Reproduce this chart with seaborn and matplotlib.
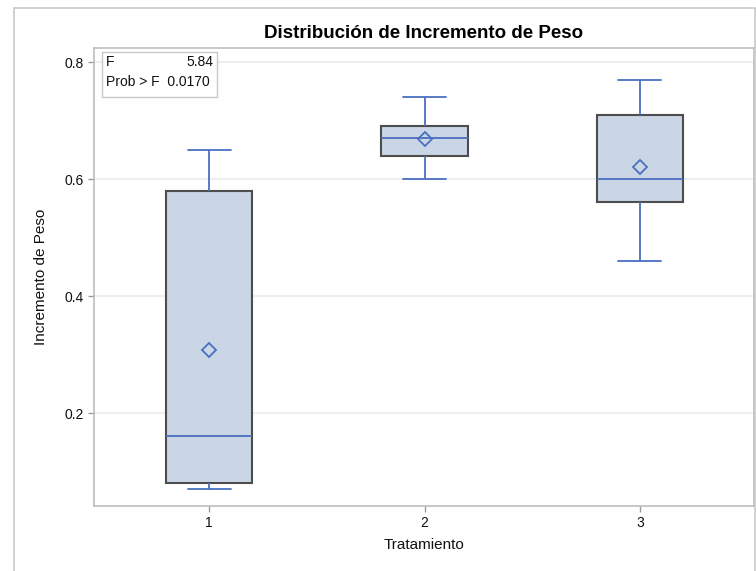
import pandas as pd
import matplotlib.pyplot as plt
import seaborn as sns
from matplotlib.patches import Rectangle

# observations per treatment (5 each)
trat_1 = [0.07, 0.08, 0.16, 0.58, 0.65]
trat_2 = [0.60, 0.64, 0.67, 0.69, 0.74]
trat_3 = [0.46, 0.56, 0.60, 0.71, 0.77]
tratamientos = ["1", "2", "3"]
f_value = 5.84
prob_f = 0.0170

df = pd.DataFrame({
    "Tratamiento": [t for t, vals in zip(tratamientos, [trat_1, trat_2, trat_3]) for _ in vals],
    "Incremento": trat_1 + trat_2 + trat_3,
})

sns.set_theme(style="white")
plt.rcParams['font.family'] = ['Liberation Sans', 'DejaVu Sans']

fig = plt.figure(figsize=(7.56, 5.71), dpi=100)
ax = fig.add_axes([94 / 756, 1 - 505.5 / 571, (754 - 94) / 756, (505.5 - 48) / 571])

blue = "#4A6FC1"
sns.boxplot(
    data=df, x="Tratamiento", y="Incremento", order=tratamientos,
    width=0.4, showmeans=True, ax=ax, linewidth=1.3,
    boxprops=dict(facecolor="#CAD5E5", edgecolor="#4D4D4D", linewidth=1.5),
    whiskerprops=dict(color=blue, linewidth=1.3),
    capprops=dict(color=blue, linewidth=1.3),
    medianprops=dict(color=blue, linewidth=1.3),
    meanprops=dict(marker="D", markerfacecolor="none", markeredgecolor=blue,
                   markersize=7, markeredgewidth=1.3),
    flierprops=dict(marker="o", markeredgecolor=blue),
)

ax.set_xlim(-0.535, 2.53)
ax.set_ylim(0.042, 0.824)
ax.set_yticks([0.2, 0.4, 0.6, 0.8])
ax.set_yticklabels(["0.2", "0.4", "0.6", "0.8"])
ax.yaxis.grid(True, color="#EBEBEB", linewidth=1.2)
ax.set_axisbelow(True)
for s in ax.spines.values():
    s.set_color("#BDBDBD")
    s.set_linewidth(1.2)
ax.tick_params(axis="both", length=4, width=1, color="#9A9A9A", labelsize=10,
               labelcolor="#111111", left=True, bottom=True)

ax.set_xlabel("Tratamiento", fontsize=11, color="#111111", labelpad=6)
ax.set_ylabel("Incremento de Peso", fontsize=11, color="#111111", labelpad=12)
ax.set_title("Distribución de Incremento de Peso", fontsize=13.5, fontweight="bold",
             color="#000000", pad=7)

# stats inset
stat_box = Rectangle((102 / 756, 1 - 97 / 571), 115 / 756, 45 / 571, transform=fig.transFigure,
                     facecolor="white", edgecolor="#C8C8C8", linewidth=1)
fig.patches.append(stat_box)
fig.text(106 / 756, 1 - 62 / 571, "F", fontsize=10, va="center", color="#111111")
fig.text(213 / 756, 1 - 62 / 571, f"{f_value:.2f}", fontsize=10, va="center", ha="right",
         color="#111111")
fig.text(106 / 756, 1 - 82 / 571, f"Prob > F  {prob_f:.4f}", fontsize=10, va="center",
         color="#111111")

# outer frame
frame = Rectangle((14 / 756, -0.05), (755 - 14) / 756, 1.05 - 8 / 571, transform=fig.transFigure,
                  facecolor="none", edgecolor="#C8C8C8", linewidth=1.2)
fig.patches.append(frame)

plt.savefig("out.png", dpi=100)
